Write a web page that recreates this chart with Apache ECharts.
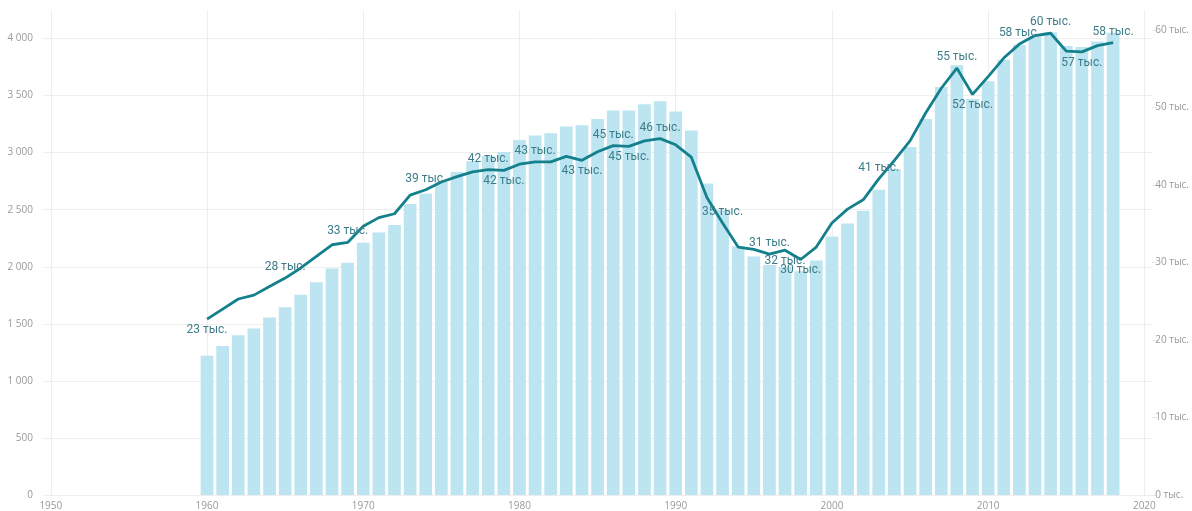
<!DOCTYPE html>
<html>
<head>
<meta charset="utf-8">
<script src="https://cdn.jsdelivr.net/npm/echarts@6/dist/echarts.min.js"></script>
<style>
  html, body { margin: 0; padding: 0; background: #fff; }
  #chart { width: 1192px; height: 511px; }
</style>
</head>
<body>
<div id="chart"></div>
<script>
  // годы 1960..2018
  var years = [];
  for (var y = 1960; y <= 2018; y++) years.push(y);

  // столбцы (левая ось)
  var barValues = [
    1220, 1305, 1400, 1460, 1555, 1645, 1755, 1865, 1985, 2035,
    2210, 2300, 2365, 2550, 2640, 2745, 2830, 2925, 2970, 3005,
    3110, 3150, 3170, 3230, 3240, 3295, 3370, 3370, 3425, 3450,
    3360, 3195, 2730, 2500, 2180, 2090, 2015, 2000, 1960, 2055,
    2265, 2380, 2490, 2675, 2855, 3050, 3295, 3575, 3765, 3470,
    3625, 3815, 3945, 4020, 4055, 3935, 3925, 3975, 4050
  ];

  // линия (правая ось)
  var lineValues = [
    22700, 24000, 25300, 25800, 26900, 28000, 29300, 30800, 32300, 32600,
    34700, 35800, 36300, 38700, 39400, 40400, 41100, 41700, 42000, 41900,
    42700, 43000, 43000, 43700, 43200, 44300, 45100, 45000, 45700, 46000,
    45200, 43600, 38400, 35100, 32000, 31700, 31100, 31600, 30400, 32000,
    35100, 36900, 38100, 40800, 43200, 45700, 49300, 52500, 55100, 51700,
    54000, 56400, 58200, 59300, 59600, 57300, 57200, 58000, 58400
  ];

  var xTicks = [1950, 1960, 1970, 1980, 1990, 2000, 2010, 2020];

  // подписи у линии
  var labelsTop = [1965, 1969, 1974, 1978, 1981, 1986, 1989, 1993, 1996, 2003, 2008, 2012, 2014, 2018];
  var labelsBottom = [1960, 1979, 1984, 1987, 1997, 1998, 2009, 2016];

  var chart = echarts.init(document.getElementById('chart'));

  var barData = years.map(function (yr, i) { return [yr, barValues[i]]; });
  var lineData = years.map(function (yr, i) {
    var item = { value: [yr, lineValues[i]] };
    if (labelsTop.indexOf(yr) >= 0) item.label = { show: true, position: 'top' };
    if (labelsBottom.indexOf(yr) >= 0) item.label = { show: true, position: 'bottom' };
    return item;
  });

  function fmtThousands(v) {
    if (v >= 1000) {
      var r = v % 1000;
      return Math.floor(v / 1000) + ' ' + ('00' + r).slice(-3);
    }
    return String(v);
  }

  chart.setOption({
    animation: false,
    textStyle: { fontFamily: 'Open Sans' },
    grid: { left: 43, right: 39, top: 10, bottom: 15 },
    xAxis: {
      type: 'value',
      min: 1949.5,
      max: 2020.5,
      axisLine: { show: false },
      axisTick: { show: false, customValues: xTicks },
      axisLabel: {
        customValues: xTicks, color: '#999', fontSize: 10, margin: 6,
        formatter: function (v) { return String(v); }
      },
      splitLine: { show: true, lineStyle: { color: '#eeeeee', width: 1 } }
    },
    yAxis: [{
      type: 'value',
      min: 0,
      max: 4250,
      interval: 500,
      axisLine: { show: false },
      axisTick: { show: false },
      axisLabel: { color: '#999', fontSize: 10, margin: 10, showMaxLabel: false, formatter: fmtThousands },
      splitLine: { show: true, showMaxLine: false, lineStyle: { color: '#eeeeee', width: 1 } }
    }, {
      type: 'value',
      position: 'right',
      min: 0,
      max: 62600,
      interval: 10000,
      axisLine: { show: false },
      axisTick: { show: true, length: 5, lineStyle: { color: '#e6e6e6' } },
      axisLabel: {
        color: '#999', fontSize: 10, margin: 3, showMaxLabel: false,
        formatter: function (v) { return (v / 1000) + ' тыс.'; }
      },
      splitLine: { show: false }
    }],
    series: [{
      type: 'bar',
      yAxisIndex: 0,
      data: barData,
      barWidth: 12.7,
      itemStyle: { color: '#bce4f1' }
    }, {
      type: 'line',
      yAxisIndex: 1,
      data: lineData,
      symbol: 'circle',
      symbolSize: 0,
      showSymbol: true,
      z: 5,
      itemStyle: { color: '#13808c' },
      lineStyle: { color: '#13808c', width: 2.8 },
      label: {
        show: false,
        color: '#3d7d88',
        fontFamily: 'Roboto',
        fontSize: 12,
        distance: 5,
        formatter: function (p) { return Math.round(p.value[1] / 1000) + ' тыс.'; }
      }
    }]
  });
</script>
</body>
</html>
